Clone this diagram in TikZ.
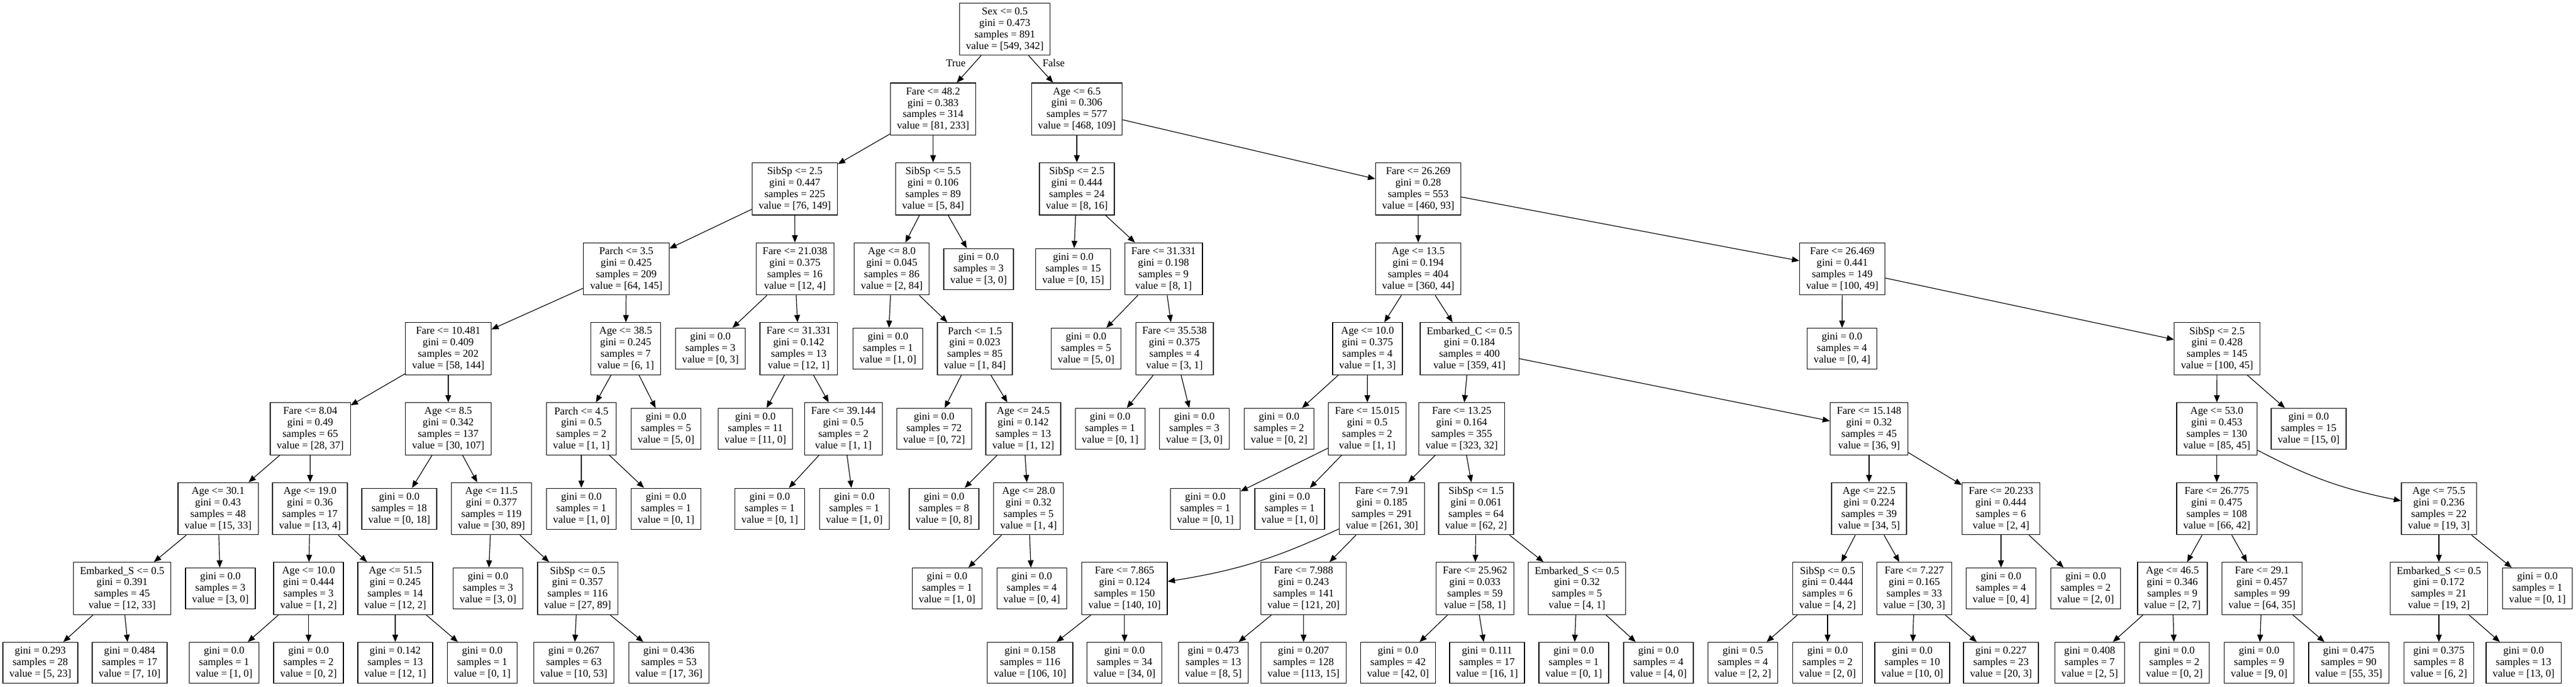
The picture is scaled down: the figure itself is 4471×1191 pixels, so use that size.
\documentclass[tikz,border=0pt]{standalone}
\usepackage{fontspec}
\setmainfont{Liberation Serif}
\usepackage{tikz}
\usetikzlibrary{arrows.meta}
\newcommand{\treefont}{\fontsize{9.1}{9.95}\selectfont}

\begin{document}
\begin{tikzpicture}[x=0.5pt, y=-0.5pt, ->, >={Triangle[length=6.3pt,width=5pt]}, line width=0.6pt,
    split/.style={draw, rectangle, align=center, font=\treefont, inner xsep=5.7pt, inner ysep=1pt, minimum height=45.25pt},
    leaf/.style={split, minimum height=35.5pt},
    tlabel/.style={font=\treefont, inner sep=0pt}]
        \useasboundingbox (0,0) rectangle (4471,1191);

        % depth 0-2
        \node[split] (n0) at (1744,50.5) {Sex <= 0.5\\gini = 0.473\\samples = 891\\value = [549, 342]};
        \node[split] (n1) at (1619.5,189.3) {Fare <= 48.2\\gini = 0.383\\samples = 314\\value = [81, 233]};
        \node[split] (n48) at (1869,189.3) {Age <= 6.5\\gini = 0.306\\samples = 577\\value = [468, 109]};
        \node[split] (n2) at (1379.5,327.7) {SibSp <= 2.5\\gini = 0.447\\samples = 225\\value = [76, 149]};
        \node[split] (n37) at (1619.5,327.7) {SibSp <= 5.5\\gini = 0.106\\samples = 89\\value = [5, 84]};
        \node[split] (n49) at (1869,327.7) {SibSp <= 2.5\\gini = 0.444\\samples = 24\\value = [8, 16]};
        \node[split] (n56) at (2461.5,327.7) {Fare <= 26.269\\gini = 0.28\\samples = 553\\value = [460, 93]};

        % depth 3
        \node[split] (n3) at (1087,466.6) {Parch <= 3.5\\gini = 0.425\\samples = 209\\value = [64, 145]};
        \node[split] (n30) at (1379.7,466.6) {Fare <= 21.038\\gini = 0.375\\samples = 16\\value = [12, 4]};
        \node[split] (n38) at (1547.8,466.6) {Age <= 8.0\\gini = 0.045\\samples = 86\\value = [2, 84]};
        \node[leaf] (n47) at (1698.5,466.6) {gini = 0.0\\samples = 3\\value = [3, 0]};
        \node[leaf] (n50) at (1862.7,466.6) {gini = 0.0\\samples = 15\\value = [0, 15]};
        \node[split] (n51) at (2019.5,466.6) {Fare <= 31.331\\gini = 0.198\\samples = 9\\value = [8, 1]};
        \node[split] (n57) at (2461.5,466.6) {Age <= 13.5\\gini = 0.194\\samples = 404\\value = [360, 44]};
        \node[split] (n90) at (3197.5,466.6) {Fare <= 26.469\\gini = 0.441\\samples = 149\\value = [100, 49]};

        % depth 4
        \node[split] (n4) at (778,605) {Fare <= 10.481\\gini = 0.409\\samples = 202\\value = [58, 144]};
        \node[split] (n25) at (1086,605) {Age <= 38.5\\gini = 0.245\\samples = 7\\value = [6, 1]};
        \node[leaf] (n31) at (1233,605) {gini = 0.0\\samples = 3\\value = [0, 3]};
        \node[split] (n32) at (1386.3,605) {Fare <= 31.331\\gini = 0.142\\samples = 13\\value = [12, 1]};
        \node[leaf] (n39) at (1541.2,605) {gini = 0.0\\samples = 1\\value = [1, 0]};
        \node[split] (n40) at (1692,605) {Parch <= 1.5\\gini = 0.023\\samples = 85\\value = [1, 84]};
        \node[leaf] (n52) at (1885,605) {gini = 0.0\\samples = 5\\value = [5, 0]};
        \node[split] (n53) at (2038.5,605) {Fare <= 35.538\\gini = 0.375\\samples = 4\\value = [3, 1]};
        \node[split] (n58) at (2373.5,605) {Age <= 10.0\\gini = 0.375\\samples = 4\\value = [1, 3]};
        \node[split] (n63) at (2550.5,605) {Embarked\_C <= 0.5\\gini = 0.184\\samples = 400\\value = [359, 41]};
        \node[leaf] (n91) at (3197,605) {gini = 0.0\\samples = 4\\value = [0, 4]};
        \node[split] (n92) at (3848,605) {SibSp <= 2.5\\gini = 0.428\\samples = 145\\value = [100, 45]};

        % depth 5
        \node[split] (n5) at (538.5,744) {Fare <= 8.04\\gini = 0.49\\samples = 65\\value = [28, 37]};
        \node[split] (n18) at (778,744) {Age <= 8.5\\gini = 0.342\\samples = 137\\value = [30, 107]};
        \node[split] (n26) at (1009,744) {Parch <= 4.5\\gini = 0.5\\samples = 2\\value = [1, 1]};
        \node[leaf] (n29) at (1156,744) {gini = 0.0\\samples = 5\\value = [5, 0]};
        \node[leaf] (n33) at (1311,744) {gini = 0.0\\samples = 11\\value = [11, 0]};
        \node[split] (n34) at (1463.8,744) {Fare <= 39.144\\gini = 0.5\\samples = 2\\value = [1, 1]};
        \node[leaf] (n41) at (1621.2,744) {gini = 0.0\\samples = 72\\value = [0, 72]};
        \node[split] (n42) at (1776,744) {Age <= 24.5\\gini = 0.142\\samples = 13\\value = [1, 12]};
        \node[leaf] (n54) at (1926.7,744) {gini = 0.0\\samples = 1\\value = [0, 1]};
        \node[leaf] (n55) at (2073,744) {gini = 0.0\\samples = 3\\value = [3, 0]};
        \node[leaf] (n59) at (2220,744) {gini = 0.0\\samples = 2\\value = [0, 2]};
        \node[split] (n60) at (2373,744) {Fare <= 15.015\\gini = 0.5\\samples = 2\\value = [1, 1]};
        \node[split] (n64) at (2537,744) {Fare <= 13.25\\gini = 0.164\\samples = 355\\value = [323, 32]};
        \node[split] (n79) at (3244,744) {Fare <= 15.148\\gini = 0.32\\samples = 45\\value = [36, 9]};
        \node[split] (n93) at (3847.5,744) {Age <= 53.0\\gini = 0.453\\samples = 130\\value = [85, 45]};
        \node[leaf] (n106) at (4007,744) {gini = 0.0\\samples = 15\\value = [15, 0]};

        % depth 6
        \node[split] (n6) at (378.5,882.6) {Age <= 30.1\\gini = 0.43\\samples = 48\\value = [15, 33]};
        \node[split] (n11) at (538,882.6) {Age <= 19.0\\gini = 0.36\\samples = 17\\value = [13, 4]};
        \node[leaf] (n19) at (693,882.6) {gini = 0.0\\samples = 18\\value = [0, 18]};
        \node[split] (n20) at (853,882.6) {Age <= 11.5\\gini = 0.377\\samples = 119\\value = [30, 89]};
        \node[leaf] (n27) at (1009,882.6) {gini = 0.0\\samples = 1\\value = [1, 0]};
        \node[leaf] (n28) at (1156,882.6) {gini = 0.0\\samples = 1\\value = [0, 1]};
        \node[leaf] (n35) at (1336,882.6) {gini = 0.0\\samples = 1\\value = [0, 1]};
        \node[leaf] (n36) at (1482.7,882.6) {gini = 0.0\\samples = 1\\value = [1, 0]};
        \node[leaf] (n43) at (1638.5,882.6) {gini = 0.0\\samples = 8\\value = [0, 8]};
        \node[split] (n44) at (1785.2,882.6) {Age <= 28.0\\gini = 0.32\\samples = 5\\value = [1, 4]};
        \node[leaf] (n61) at (2092,882.6) {gini = 0.0\\samples = 1\\value = [0, 1]};
        \node[leaf] (n62) at (2238.5,882.6) {gini = 0.0\\samples = 1\\value = [1, 0]};
        \node[split] (n65) at (2398.5,882.6) {Fare <= 7.91\\gini = 0.185\\samples = 291\\value = [261, 30]};
        \node[split] (n72) at (2562,882.6) {SibSp <= 1.5\\gini = 0.061\\samples = 64\\value = [62, 2]};
        \node[split] (n80) at (3244,882.6) {Age <= 22.5\\gini = 0.224\\samples = 39\\value = [34, 5]};
        \node[split] (n87) at (3473,882.6) {Fare <= 20.233\\gini = 0.444\\samples = 6\\value = [2, 4]};
        \node[split] (n94) at (3847.5,882.6) {Fare <= 26.775\\gini = 0.475\\samples = 108\\value = [66, 42]};
        \node[split] (n101) at (4233,882.6) {Age <= 75.5\\gini = 0.236\\samples = 22\\value = [19, 3]};

        % depth 7
        \node[split] (n7) at (212,1021) {Embarked\_S <= 0.5\\gini = 0.391\\samples = 45\\value = [12, 33]};
        \node[leaf] (n10) at (382.5,1021) {gini = 0.0\\samples = 3\\value = [3, 0]};
        \node[split] (n12) at (535.5,1021) {Age <= 10.0\\gini = 0.444\\samples = 3\\value = [1, 2]};
        \node[split] (n15) at (686,1021) {Age <= 51.5\\gini = 0.245\\samples = 14\\value = [12, 2]};
        \node[leaf] (n21) at (847,1021) {gini = 0.0\\samples = 3\\value = [3, 0]};
        \node[split] (n22) at (1002.5,1021) {SibSp <= 0.5\\gini = 0.357\\samples = 116\\value = [27, 89]};
        \node[leaf] (n45) at (1643.8,1021) {gini = 0.0\\samples = 1\\value = [1, 0]};
        \node[leaf] (n46) at (1790.7,1021) {gini = 0.0\\samples = 4\\value = [0, 4]};
        \node[split] (n66) at (1951.8,1021) {Fare <= 7.865\\gini = 0.124\\samples = 150\\value = [140, 10]};
        \node[split] (n69) at (2262.5,1021) {Fare <= 7.988\\gini = 0.243\\samples = 141\\value = [121, 20]};
        \node[split] (n73) at (2560,1021) {Fare <= 25.962\\gini = 0.033\\samples = 59\\value = [58, 1]};
        \node[split] (n76) at (2737,1021) {Embarked\_S <= 0.5\\gini = 0.32\\samples = 5\\value = [4, 1]};
        \node[split] (n81) at (3172,1021) {SibSp <= 0.5\\gini = 0.444\\samples = 6\\value = [4, 2]};
        \node[split] (n84) at (3322.5,1021) {Fare <= 7.227\\gini = 0.165\\samples = 33\\value = [30, 3]};
        \node[leaf] (n88) at (3473,1021) {gini = 0.0\\samples = 4\\value = [0, 4]};
        \node[leaf] (n89) at (3620,1021) {gini = 0.0\\samples = 2\\value = [2, 0]};
        \node[split] (n95) at (3770.5,1021) {Age <= 46.5\\gini = 0.346\\samples = 9\\value = [2, 7]};
        \node[split] (n98) at (3926,1021) {Fare <= 29.1\\gini = 0.457\\samples = 99\\value = [64, 35]};
        \node[split] (n102) at (4233,1021) {Embarked\_S <= 0.5\\gini = 0.172\\samples = 21\\value = [19, 2]};
        \node[leaf] (n105) at (4404,1021) {gini = 0.0\\samples = 1\\value = [0, 1]};

        % depth 8
        \node[leaf] (n8) at (70,1150) {gini = 0.293\\samples = 28\\value = [5, 23]};
        \node[leaf] (n9) at (225,1150) {gini = 0.484\\samples = 17\\value = [7, 10]};
        \node[leaf] (n13) at (389,1150) {gini = 0.0\\samples = 1\\value = [1, 0]};
        \node[leaf] (n14) at (535.5,1150) {gini = 0.0\\samples = 2\\value = [0, 2]};
        \node[leaf] (n16) at (686,1150) {gini = 0.142\\samples = 13\\value = [12, 1]};
        \node[leaf] (n17) at (837,1150) {gini = 0.0\\samples = 1\\value = [0, 1]};
        \node[leaf] (n23) at (996,1150) {gini = 0.267\\samples = 63\\value = [10, 53]};
        \node[leaf] (n24) at (1161,1150) {gini = 0.436\\samples = 53\\value = [17, 36]};
        \node[leaf] (n67) at (1787.8,1150) {gini = 0.158\\samples = 116\\value = [106, 10]};
        \node[leaf] (n68) at (1951.8,1150) {gini = 0.0\\samples = 34\\value = [34, 0]};
        \node[leaf] (n70) at (2106,1150) {gini = 0.473\\samples = 13\\value = [8, 5]};
        \node[leaf] (n71) at (2262.5,1150) {gini = 0.207\\samples = 128\\value = [113, 15]};
        \node[leaf] (n74) at (2426.5,1150) {gini = 0.0\\samples = 42\\value = [42, 0]};
        \node[leaf] (n75) at (2581,1150) {gini = 0.111\\samples = 17\\value = [16, 1]};
        \node[leaf] (n77) at (2731.5,1150) {gini = 0.0\\samples = 1\\value = [0, 1]};
        \node[leaf] (n78) at (2878.5,1150) {gini = 0.0\\samples = 4\\value = [4, 0]};
        \node[leaf] (n82) at (3025,1150) {gini = 0.5\\samples = 4\\value = [2, 2]};
        \node[leaf] (n83) at (3172,1150) {gini = 0.0\\samples = 2\\value = [2, 0]};
        \node[leaf] (n85) at (3319,1150) {gini = 0.0\\samples = 10\\value = [10, 0]};
        \node[leaf] (n86) at (3473,1150) {gini = 0.227\\samples = 23\\value = [20, 3]};
        \node[leaf] (n96) at (3627,1150) {gini = 0.408\\samples = 7\\value = [2, 5]};
        \node[leaf] (n97) at (3774,1150) {gini = 0.0\\samples = 2\\value = [0, 2]};
        \node[leaf] (n99) at (3921,1150) {gini = 0.0\\samples = 9\\value = [9, 0]};
        \node[leaf] (n100) at (4076.5,1150) {gini = 0.475\\samples = 90\\value = [55, 35]};
        \node[leaf] (n103) at (4233,1150) {gini = 0.375\\samples = 8\\value = [6, 2]};
        \node[leaf] (n104) at (4380,1150) {gini = 0.0\\samples = 13\\value = [13, 0]};

        \node[tlabel] (lbltrue) at (1659,109.5) {True};
        \node[tlabel] (lblfalse) at (1828.7,109.5) {False};

        \draw (n0) -- (n1);
        \draw (n0) -- (n48);
        \draw (n1) -- (n2);
        \draw (n1) -- (n37);
        \draw (n2) -- (n3);
        \draw (n2) -- (n30);
        \draw (n3) -- (n4);
        \draw (n3) -- (n25);
        \draw (n4) -- (n5);
        \draw (n4) -- (n18);
        \draw (n5) -- (n6);
        \draw (n5) -- (n11);
        \draw (n6) -- (n7);
        \draw (n6) -- (n10);
        \draw (n7) -- (n8);
        \draw (n7) -- (n9);
        \draw (n11) -- (n12);
        \draw (n11) -- (n15);
        \draw (n12) -- (n13);
        \draw (n12) -- (n14);
        \draw (n15) -- (n16);
        \draw (n15) -- (n17);
        \draw (n18) -- (n19);
        \draw (n18) -- (n20);
        \draw (n20) -- (n21);
        \draw (n20) -- (n22);
        \draw (n22) -- (n23);
        \draw (n22) -- (n24);
        \draw (n25) -- (n26);
        \draw (n25) -- (n29);
        \draw (n26) -- (n27);
        \draw (n26) -- (n28);
        \draw (n30) -- (n31);
        \draw (n30) -- (n32);
        \draw (n32) -- (n33);
        \draw (n32) -- (n34);
        \draw (n34) -- (n35);
        \draw (n34) -- (n36);
        \draw (n37) -- (n38);
        \draw (n37) -- (n47);
        \draw (n38) -- (n39);
        \draw (n38) -- (n40);
        \draw (n40) -- (n41);
        \draw (n40) -- (n42);
        \draw (n42) -- (n43);
        \draw (n42) -- (n44);
        \draw (n44) -- (n45);
        \draw (n44) -- (n46);
        \draw (n48) -- (n49);
        \draw (n48) -- (n56);
        \draw (n49) -- (n50);
        \draw (n49) -- (n51);
        \draw (n51) -- (n52);
        \draw (n51) -- (n53);
        \draw (n53) -- (n54);
        \draw (n53) -- (n55);
        \draw (n56) -- (n57);
        \draw (n56) -- (n90);
        \draw (n57) -- (n58);
        \draw (n57) -- (n63);
        \draw (n58) -- (n59);
        \draw (n58) -- (n60);
        \draw (n60) -- (n61);
        \draw (n60) -- (n62);
        \draw (n63) -- (n64);
        \draw (n63) -- (n79);
        \draw (n64) -- (n65);
        \draw (n64) -- (n72);
        \draw (n65) edge [bend left=8] (n66);
        \draw (n65) -- (n69);
        \draw (n66) -- (n67);
        \draw (n66) -- (n68);
        \draw (n69) -- (n70);
        \draw (n69) -- (n71);
        \draw (n72) -- (n73);
        \draw (n72) -- (n76);
        \draw (n73) -- (n74);
        \draw (n73) -- (n75);
        \draw (n76) -- (n77);
        \draw (n76) -- (n78);
        \draw (n79) -- (n80);
        \draw (n79) -- (n87);
        \draw (n80) -- (n81);
        \draw (n80) -- (n84);
        \draw (n81) -- (n82);
        \draw (n81) -- (n83);
        \draw (n84) -- (n85);
        \draw (n84) -- (n86);
        \draw (n87) -- (n88);
        \draw (n87) -- (n89);
        \draw (n90) -- (n91);
        \draw (n90) -- (n92);
        \draw (n92) -- (n93);
        \draw (n92) -- (n106);
        \draw (n93) -- (n94);
        \draw (n93) edge [bend right=8] (n101);
        \draw (n94) -- (n95);
        \draw (n94) -- (n98);
        \draw (n95) -- (n96);
        \draw (n95) -- (n97);
        \draw (n98) -- (n99);
        \draw (n98) -- (n100);
        \draw (n101) -- (n102);
        \draw (n101) -- (n105);
        \draw (n102) -- (n103);
        \draw (n102) -- (n104);
      \end{tikzpicture}
\end{document}
